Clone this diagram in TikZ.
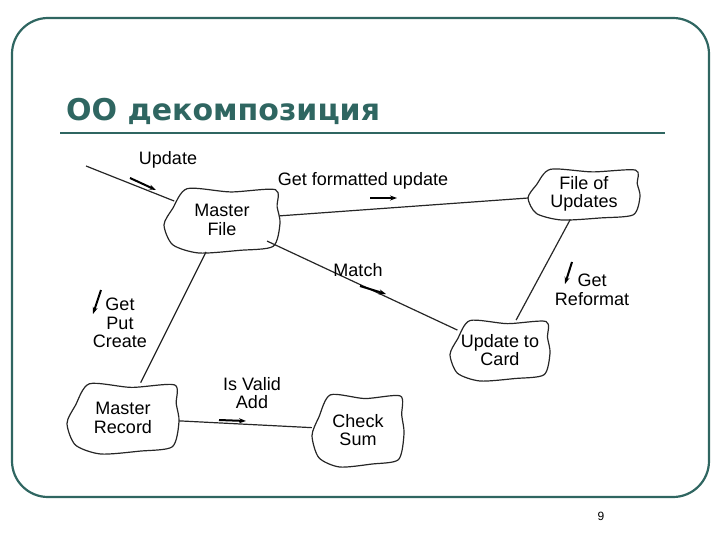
\documentclass[tikz,border=0pt]{standalone}
\usepackage{fontspec}
\setmainfont{Liberation Sans}
\newfontfamily\titlefont{DejaVu Sans}
\usetikzlibrary{shapes.geometric,arrows.meta}
\definecolor{teal1}{HTML}{2F6661}
\tikzset{
  node/.style={ellipse,inner sep=0pt,font=\fontsize{18}{18.5}\selectfont,align=center},
  lbl/.style={font=\fontsize{18}{18.5}\selectfont,align=center,inner sep=1pt},
  link/.style={line width=1.2pt,black!85},
  flow/.style={line width=2pt,-{Stealth[length=7pt,width=5pt]}},
  blobline/.style={line width=1.2pt,black!85}
}
\newcommand\myblob[3]{%
  \begin{scope}[shift={(#1)},xscale=#2,yscale=#3]
  \draw[blobline] plot[smooth cycle,tension=0.45] coordinates
   {(1.0,0.1)(0.88,0.8)(0.3,0.92)(-0.4,1.0)(-0.85,0.75)(-1.0,0.15)(-0.85,-0.35)(-0.6,-0.95)(0.15,-0.85)(0.92,-0.92)(0.95,-0.4)};
  \end{scope}}
\begin{document}
\begin{tikzpicture}[x=1pt,y=-1pt]
\useasboundingbox (0,0) rectangle (720,540);
\draw[teal1,line width=2.2pt,rounded corners=36pt] (12,18) rectangle (709,497);
\node[anchor=base west,text=teal1,font=\titlefont\bfseries\fontsize{30}{31}\selectfont,inner sep=0pt] (title) at (66,121) {OO декомпозиция};
\draw[teal1,line width=2.2pt] (60,133) coordinate (tl) -- (665,133) coordinate (tr);
\node[anchor=base,font=\fontsize{12}{12}\selectfont] (pg) at (601,520) {9};

\node[node,minimum width=116pt,minimum height=66pt] (mf) at (222,220) {Master\\File};
\node[node,minimum width=112pt,minimum height=52pt] (fu) at (584,194) {File of\\Updates};
\node[node,minimum width=100pt,minimum height=62pt] (uc) at (500,350) {Update to\\Card};
\node[node,minimum width=112pt,minimum height=74pt] (mr) at (123,418) {Master\\Record};
\node[node,minimum width=92pt,minimum height=74pt] (cs) at (358,430) {Check\\Sum};
\myblob{mf}{58}{33}
\myblob{fu}{56}{26}
\myblob{uc}{50}{31}
\myblob{mr}{56}{36}
\myblob{cs}{46}{37}

\coordinate (in) at (86,166);
\draw[link] (in) -- (mf);
\draw[link] (mf) -- (fu);
\draw[link] (mf) -- (uc);
\draw[link] (mf) -- (mr);
\draw[link] (fu) -- (uc);
\draw[link] (mr) -- (cs);

\node[lbl] (l1) at (168,160) {Update};
\draw[flow] (130,178) -- (156,190);
\node[lbl] (l2) at (363,181) {Get formatted update};
\draw[flow] (370,198) -- (397,198);
\node[lbl] (l3) at (358,270) {Match};
\draw[flow] (360,286) -- (386,294);
\node[lbl] (l4) at (592,290) {Get\\Reformat};
\draw[flow] (572,262) -- (565,284);
\node[lbl] (l5) at (120,323) {Get\\Put\\Create};
\draw[flow] (101,290) -- (93,314);
\node[lbl] (l6) at (252,393) {Is Valid\\Add};
\draw[flow] (219,420) -- (246,421);
\end{tikzpicture}
\end{document}
